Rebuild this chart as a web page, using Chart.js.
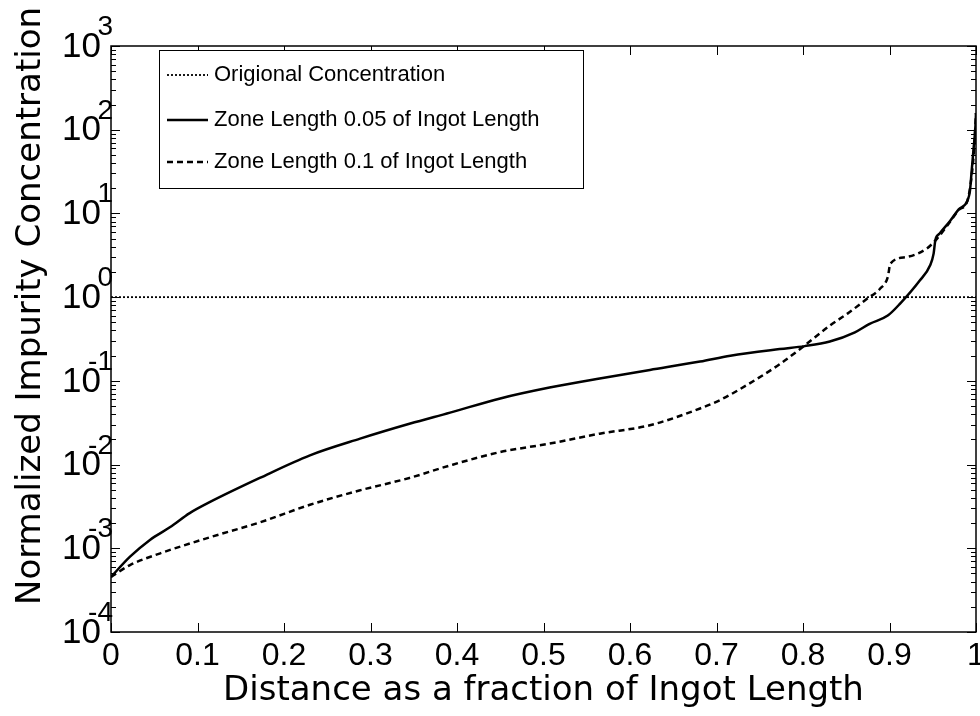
<!DOCTYPE html>
<html>
<head>
<meta charset="utf-8">
<script src="https://cdn.jsdelivr.net/npm/chart.js@4.4.0/dist/chart.umd.min.js"></script>
<style>
html, body { margin: 0; padding: 0; background: #fff; }
</style>
</head>
<body>
<canvas id="grafico" width="980" height="716"></canvas>
<script>
// Dados
const xOriginal = [0, 1];
const yOriginal = [1, 1];

const xZone005 = [0, 0.022, 0.045, 0.068, 0.091, 0.114, 0.172, 0.23, 0.288, 0.346, 0.392, 0.45, 0.507, 0.565, 0.623, 0.681, 0.716, 0.773, 0.802, 0.831, 0.86, 0.877, 0.898, 0.912, 0.935, 0.947, 0.951, 0.953, 0.958, 0.97, 0.98, 0.99, 0.993, 0.995, 0.997, 0.9995, 1];
const yZone005 = [4.55e-4, 7.94e-4, 1.26e-3, 1.78e-3, 2.63e-3, 3.55e-3, 6.92e-3, 1.29e-2, 2.04e-2, 3.09e-2, 4.17e-2, 6.17e-2, 8.32e-2, 0.107, 0.135, 0.170, 0.200, 0.240, 0.260, 0.295, 0.380, 0.480, 0.603, 0.832, 1.58, 2.40, 3.31, 4.79, 5.75, 8.13, 11.2, 14.1, 18.6, 32.4, 56.2, 117, 158];

const xZone01 = [0, 0.022, 0.057, 0.114, 0.172, 0.23, 0.287, 0.345, 0.392, 0.45, 0.507, 0.565, 0.623, 0.681, 0.704, 0.735, 0.773, 0.802, 0.831, 0.851, 0.874, 0.889, 0.898, 0.901, 0.92, 0.943, 0.955, 0.97, 0.98, 0.99, 0.995, 0.998, 1];
const yZone01 = [4.55e-4, 6.31e-4, 8.71e-4, 1.35e-3, 2.04e-3, 3.31e-3, 4.90e-3, 6.92e-3, 9.77e-3, 1.41e-2, 1.78e-2, 2.34e-2, 2.95e-2, 4.68e-2, 5.89e-2, 8.91e-2, 0.158, 0.265, 0.457, 0.631, 0.955, 1.26, 1.74, 2.51, 3.02, 3.80, 5.01, 7.94, 11.0, 14.1, 28.2, 63.1, 158];

const seriesLabels = ['Origional Concentration', 'Zone Length 0.05 of Ingot Length', 'Zone Length 0.1 of Ingot Length'];
const xTicks = [0, 0.1, 0.2, 0.3, 0.4, 0.5, 0.6, 0.7, 0.8, 0.9, 1];
const xTickLabels = ['0', '0.1', '0.2', '0.3', '0.4', '0.5', '0.6', '0.7', '0.8', '0.9', '1'];
const yExponents = [-4, -3, -2, -1, 0, 1, 2, 3];
const xTitle = 'Distance as a fraction of Ingot Length';
const yTitle = 'Normalized Impurity Concentration';

const toPoints = (xs, ys) => xs.map((x, i) => ({ x: x, y: ys[i] }));

// Eixos estilo MATLAB: caixa, ticks para dentro, rotulos 10^n, legenda
const matlabAxes = {
    id: 'matlabAxes',
    afterDraw(chart) {
        const { ctx, chartArea: a, scales: { x, y } } = chart;
        ctx.save();
        ctx.strokeStyle = '#000';
        ctx.fillStyle = '#000';

        ctx.lineWidth = 1.5;
        ctx.strokeRect(a.left, a.top, a.right - a.left, a.bottom - a.top);

        ctx.lineWidth = 1;
        ctx.beginPath();
        xTicks.forEach(v => {
            const px = Math.round(x.getPixelForValue(v)) + 0.5;
            ctx.moveTo(px, a.bottom); ctx.lineTo(px, a.bottom - 9);
            ctx.moveTo(px, a.top); ctx.lineTo(px, a.top + 9);
        });
        yExponents.forEach(e => {
            for (let m = 1; m <= 9; m++) {
                const v = m * Math.pow(10, e);
                if (v > 1e3) break;
                const len = m === 1 ? 9 : 5;
                const py = Math.round(y.getPixelForValue(v)) + 0.5;
                ctx.moveTo(a.left, py); ctx.lineTo(a.left + len, py);
                ctx.moveTo(a.right, py); ctx.lineTo(a.right - len, py);
            }
        });
        ctx.stroke();

        // rotulos do eixo y
        yExponents.forEach(e => {
            const py = y.getPixelForValue(Math.pow(10, e));
            ctx.font = '35px "Liberation Sans"';
            ctx.textAlign = 'right';
            ctx.textBaseline = 'middle';
            ctx.fillText('10', 101, py + 1);
            ctx.font = '28px "Liberation Sans"';
            ctx.textAlign = 'right';
            ctx.textBaseline = 'alphabetic';
            ctx.fillText(String(e), 113, py - 11);
        });

        // titulo do eixo y
        ctx.save();
        ctx.translate(31, 306);
        ctx.rotate(-Math.PI / 2);
        ctx.font = '34px "DejaVu Sans"';
        ctx.textAlign = 'center';
        ctx.textBaseline = 'middle';
        ctx.fillText(yTitle, 0, 0);
        ctx.restore();

        // legenda
        const lx = 159, ly = 50, lw = 424, lh = 138;
        ctx.fillStyle = '#fff';
        ctx.fillRect(lx, ly, lw, lh);
        ctx.lineWidth = 1;
        ctx.strokeRect(lx + 0.5, ly + 0.5, lw, lh);
        const rows = [75, 120, 162];
        chart.data.datasets.forEach((ds, i) => {
            ctx.beginPath();
            ctx.lineWidth = ds.borderWidth;
            ctx.setLineDash(ds.borderDash || []);
            ctx.moveTo(167, rows[i]);
            ctx.lineTo(208, rows[i]);
            ctx.stroke();
            ctx.setLineDash([]);
            ctx.fillStyle = '#000';
            ctx.font = '22px "Liberation Sans"';
            ctx.textAlign = 'left';
            ctx.textBaseline = 'middle';
            ctx.fillText(ds.label, 214, rows[i]);
        });
        ctx.restore();
    }
};

const ctxGrafico = document.getElementById('grafico').getContext('2d');
new Chart(ctxGrafico, {
    type: 'line',
    data: {
        datasets: [{
            label: seriesLabels[0],
            data: toPoints(xOriginal, yOriginal),
            borderColor: '#000',
            borderWidth: 1.8,
            borderDash: [2, 2],
            pointRadius: 0
        }, {
            label: seriesLabels[1],
            data: toPoints(xZone005, yZone005),
            borderColor: '#000',
            borderWidth: 2.5,
            cubicInterpolationMode: 'monotone',
            pointRadius: 0
        }, {
            label: seriesLabels[2],
            data: toPoints(xZone01, yZone01),
            borderColor: '#000',
            borderWidth: 2.5,
            borderDash: [6, 4],
            cubicInterpolationMode: 'monotone',
            pointRadius: 0
        }]
    },
    options: {
        responsive: false,
        animation: false,
        devicePixelRatio: 1,
        layout: { padding: { top: 46, right: 4, left: 0, bottom: 0 } },
        plugins: {
            legend: { display: false },
            tooltip: { enabled: false }
        },
        scales: {
            x: {
                type: 'linear',
                min: 0,
                max: 1,
                afterBuildTicks: s => { s.ticks = xTicks.map(v => ({ value: v })); },
                afterFit: s => { s.height = 84; s.paddingLeft = 0; s.paddingRight = 0; },
                grid: { display: false, drawTicks: false },
                border: { display: false },
                ticks: {
                    autoSkip: false,
                    maxRotation: 0,
                    padding: 5,
                    color: '#000',
                    font: { family: 'Liberation Sans', size: 32 },
                    callback: (v, i) => xTickLabels[i]
                },
                title: {
                    display: true,
                    text: xTitle,
                    color: '#000',
                    font: { family: 'DejaVu Sans', size: 34 },
                    padding: { top: 0, bottom: 4 }
                }
            },
            y: {
                type: 'logarithmic',
                min: 1e-4,
                max: 1e3,
                afterFit: s => { s.width = 111; s.paddingTop = 0; s.paddingBottom = 0; },
                grid: { display: false, drawTicks: false },
                border: { display: false },
                ticks: { display: false }
            }
        }
    },
    plugins: [matlabAxes]
});
</script>
</body>
</html>
